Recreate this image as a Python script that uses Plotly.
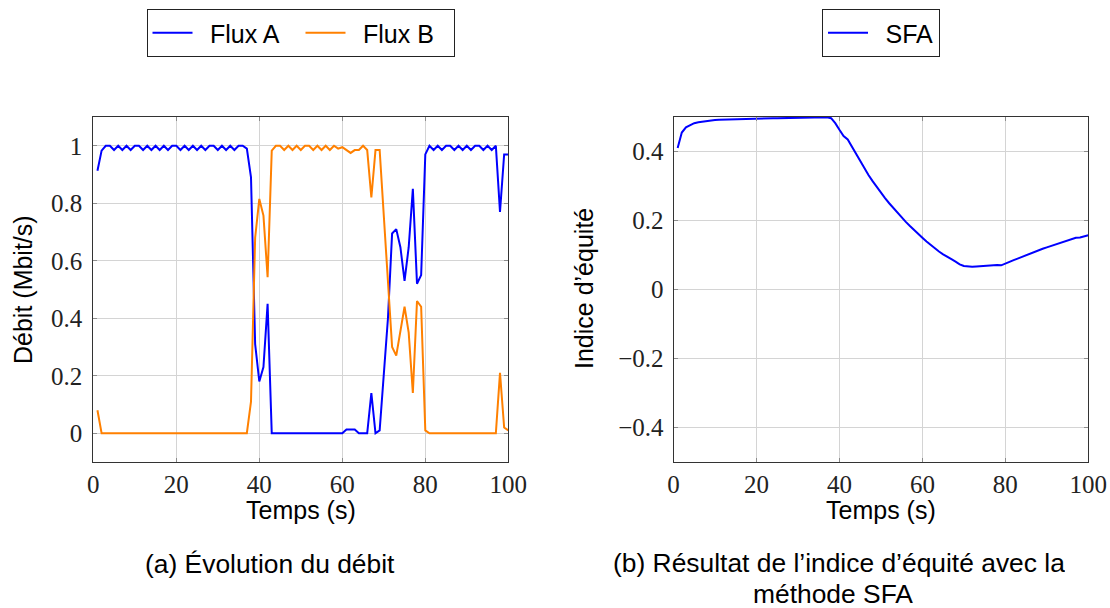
import plotly.graph_objects as go

# ---------------- data ----------------
time_s = list(range(1, 101))

flux_a = [
    0.913, 0.983, 1.0, 1.0, 0.985, 1.0, 0.985, 1.0, 0.985, 1.0,      # 1-10
    1.0, 0.985, 1.0, 0.985, 1.0, 0.985, 1.0, 0.985, 1.0, 1.0,        # 11-20
    0.985, 1.0, 0.985, 1.0, 0.985, 1.0, 0.985, 1.0, 1.0, 0.985,      # 21-30
    1.0, 0.985, 1.0, 0.985, 1.0, 1.0, 0.99, 0.89, 0.31, 0.18,        # 31-40
    0.23, 0.45, 0.0, 0.0, 0.0, 0.0, 0.0, 0.0, 0.0, 0.0,              # 41-50
    0.0, 0.0, 0.0, 0.0, 0.0, 0.0, 0.0, 0.0, 0.0, 0.0,                # 51-60
    0.013, 0.013, 0.013, 0.0, 0.0, 0.0, 0.14, 0.0, 0.01, 0.21,       # 61-70
    0.40, 0.695, 0.71, 0.647, 0.53, 0.647, 0.85, 0.52, 0.55, 0.97,   # 71-80
    1.0, 0.985, 1.0, 0.985, 1.0, 1.0, 0.985, 1.0, 0.985, 1.0,        # 81-90
    0.985, 1.0, 1.0, 0.985, 1.0, 0.985, 1.0, 0.77, 0.97, 0.97,       # 91-100
]

flux_b = [
    0.08, 0.0, 0.0, 0.0, 0.0, 0.0, 0.0, 0.0, 0.0, 0.0,               # 1-10
    0.0, 0.0, 0.0, 0.0, 0.0, 0.0, 0.0, 0.0, 0.0, 0.0,                # 11-20
    0.0, 0.0, 0.0, 0.0, 0.0, 0.0, 0.0, 0.0, 0.0, 0.0,                # 21-30
    0.0, 0.0, 0.0, 0.0, 0.0, 0.0, 0.0, 0.11, 0.68, 0.815,            # 31-40
    0.757, 0.543, 0.983, 1.0, 1.0, 0.985, 1.0, 0.985, 1.0, 0.985,    # 41-50
    1.0, 1.0, 0.985, 1.0, 0.985, 1.0, 0.985, 1.0, 0.99, 0.995,       # 51-60
    0.985, 0.975, 0.985, 0.985, 1.0, 0.985, 0.82, 0.985, 0.985, 0.75, # 61-70
    0.535, 0.30, 0.27, 0.35, 0.44, 0.35, 0.14, 0.46, 0.44, 0.01,     # 71-80
    0.0, 0.0, 0.0, 0.0, 0.0, 0.0, 0.0, 0.0, 0.0, 0.0,                # 81-90
    0.0, 0.0, 0.0, 0.0, 0.0, 0.0, 0.0, 0.21, 0.02, 0.01,             # 91-100
]

sfa = [
    0.410, 0.455, 0.470, 0.477, 0.482, 0.485, 0.487, 0.489, 0.490, 0.491,    # 1-10
    0.492, 0.4925, 0.493, 0.4935, 0.494, 0.4943, 0.4946, 0.495, 0.4953, 0.4955,  # 11-20
    0.4958, 0.496, 0.4962, 0.4964, 0.4966, 0.4968, 0.497, 0.4972, 0.4974, 0.4976,  # 21-30
    0.4978, 0.498, 0.4982, 0.4984, 0.4986, 0.4988, 0.499, 0.4965, 0.482, 0.463,  # 31-40
    0.445, 0.435, 0.414, 0.392, 0.371, 0.351, 0.332, 0.314, 0.297, 0.280,    # 41-50
    0.265, 0.250, 0.236, 0.222, 0.209, 0.196, 0.184, 0.172, 0.161, 0.150,    # 51-60
    0.139, 0.129, 0.119, 0.110, 0.102, 0.094, 0.088, 0.081, 0.073, 0.068,    # 61-70
    0.066, 0.066, 0.067, 0.068, 0.068, 0.068, 0.071, 0.071, 0.070, 0.074,    # 71-80
    0.080, 0.085, 0.090, 0.095, 0.100, 0.104, 0.109, 0.113, 0.118, 0.122,    # 81-90
    0.126, 0.130, 0.134, 0.138, 0.142, 0.146, 0.150, 0.151, 0.154, 0.157,    # 91-100
]

series_names = ["Flux A", "Flux B", "SFA"]

x_tick_vals = [0, 20, 40, 60, 80, 100]
x_tick_text = ["0", "20", "40", "60", "80", "100"]
y1_tick_vals = [0, 0.2, 0.4, 0.6, 0.8, 1]
y1_tick_text = ["0", "0.2", "0.4", "0.6", "0.8", "1"]
y2_tick_vals = [-0.4, -0.2, 0, 0.2, 0.4]
y2_tick_text = ["\u22120.4", "\u22120.2", "0", "0.2", "0.4"]

# ---------------- figure ----------------
W, H = 1110, 608
BLUE = "#0000ff"
ORANGE = "#ff8000"
SERIF = "Liberation Serif, Times New Roman, serif"
SANS = "Liberation Sans, Arial, sans-serif"
GAP = "\u2002"  # visual gap between legend line sample and label

fig = go.Figure()
fig.add_trace(go.Scatter(x=time_s, y=flux_a, mode="lines", name=GAP + series_names[0],
                         line=dict(color=BLUE, width=2), xaxis="x", yaxis="y",
                         legend="legend"))
fig.add_trace(go.Scatter(x=time_s, y=flux_b, mode="lines", name=GAP + series_names[1],
                         line=dict(color=ORANGE, width=2), xaxis="x", yaxis="y",
                         legend="legend"))
fig.add_trace(go.Scatter(x=time_s, y=sfa, mode="lines", name=GAP + series_names[2],
                         line=dict(color=BLUE, width=2), xaxis="x2", yaxis="y2",
                         legend="legend2"))

def px_x(p):
    return p / W

def px_y(p):
    return 1 - p / H

axis_common = dict(
    showgrid=True, gridcolor="#d4d4d4", gridwidth=1,
    showline=True, linecolor="#333333", linewidth=1, mirror="allticks",
    ticks="inside", ticklen=4, tickcolor="#8c8c8c", tickwidth=1,
    zeroline=False, automargin=False,
    tickfont=dict(family=SERIF, size=25, color="#222222"),
)

legend_common = dict(
    orientation="h", yanchor="top", xanchor="center",
    bordercolor="#222222", borderwidth=1, bgcolor="white",
    font=dict(family=SANS, size=25, color="black"), itemwidth=40,
)

fig.update_layout(
    width=W, height=H, autosize=False,
    margin=dict(l=0, r=0, t=0, b=0, autoexpand=False),
    paper_bgcolor="white", plot_bgcolor="white",
    xaxis=dict(domain=[px_x(93.3), px_x(508.3)], range=[0, 100], anchor="y",
               tickvals=x_tick_vals, ticktext=x_tick_text, ticklabelstandoff=0,
               **axis_common),
    yaxis=dict(domain=[px_y(462), px_y(117)], range=[-0.1, 1.1], anchor="x",
               tickvals=y1_tick_vals, ticktext=y1_tick_text, ticklabelstandoff=5,
               **axis_common),
    xaxis2=dict(domain=[px_x(673.5), px_x(1088.3)], range=[0, 100], anchor="y2",
                tickvals=x_tick_vals, ticktext=x_tick_text, ticklabelstandoff=0,
                **axis_common),
    yaxis2=dict(domain=[px_y(462), px_y(117)], range=[-0.5, 0.5], anchor="x2",
                tickvals=y2_tick_vals, ticktext=y2_tick_text, ticklabelstandoff=4,
                **axis_common),
    legend=dict(x=px_x(300.5), y=px_y(9), entrywidth=98, entrywidthmode="pixels",
                **legend_common),
    legend2=dict(x=px_x(881), y=px_y(9), **legend_common),
    showlegend=True,
)

title_font = dict(family=SANS, size=25, color="black")
caption_font = dict(family=SANS, size=26.4, color="black")
annotations = [
    dict(text="Temps (s)", x=px_x(300.7), y=px_y(510), xref="paper", yref="paper",
         xanchor="center", yanchor="middle", showarrow=False, font=title_font),
    dict(text="Temps (s)", x=px_x(881), y=px_y(510), xref="paper", yref="paper",
         xanchor="center", yanchor="middle", showarrow=False, font=title_font),
    dict(text="Débit (Mbit/s)", x=px_x(23), y=px_y(290), xref="paper", yref="paper",
         xanchor="center", yanchor="middle", showarrow=False, textangle=-90, font=title_font),
    dict(text="Indice d’équité", x=px_x(584), y=px_y(289), xref="paper", yref="paper",
         xanchor="center", yanchor="middle", showarrow=False, textangle=-90, font=title_font),
    dict(text="(a) Évolution du débit", x=px_x(270), y=px_y(564), xref="paper", yref="paper",
         xanchor="center", yanchor="middle", showarrow=False, font=caption_font),
    dict(text="(b) Résultat de l’indice d’équité avec la", x=px_x(839), y=px_y(563),
         xref="paper", yref="paper", xanchor="center", yanchor="middle",
         showarrow=False, font=caption_font, height=28, valign="middle"),
    dict(text="méthode SFA", x=px_x(833), y=px_y(594),
         xref="paper", yref="paper", xanchor="center", yanchor="middle",
         showarrow=False, font=caption_font, height=28, valign="middle"),
]
fig.update_layout(annotations=annotations)

fig.write_html("out.html", config={"displayModeBar": False},
               post_script="document.body.style.margin='0px';")
